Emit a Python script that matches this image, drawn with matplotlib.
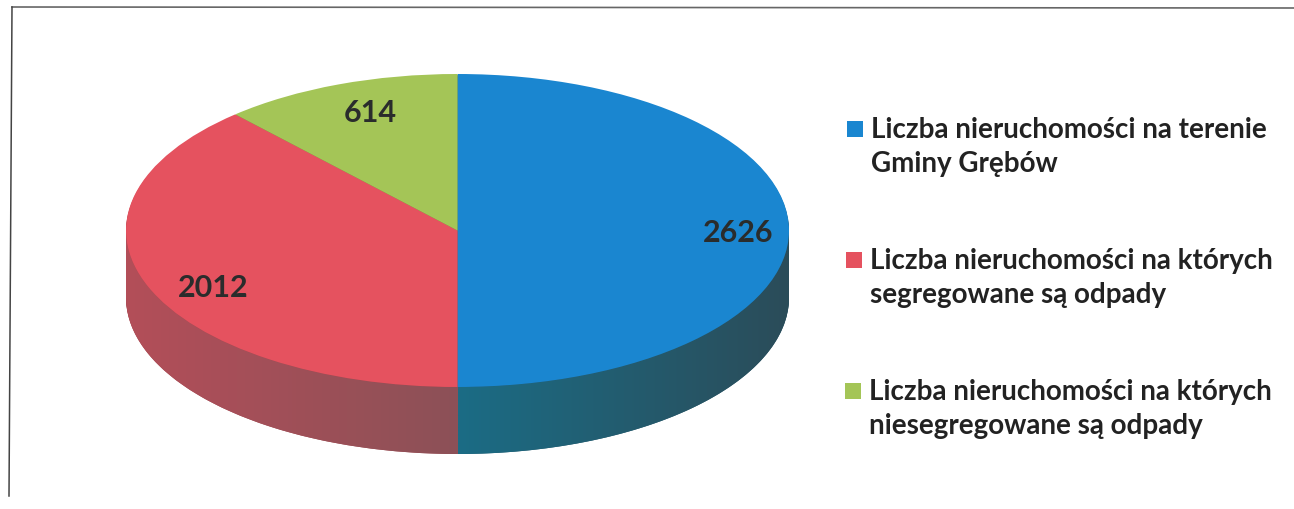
import matplotlib
matplotlib.use('Agg')
import matplotlib.pyplot as plt
from matplotlib.colors import LinearSegmentedColormap
from matplotlib.patches import Polygon
import numpy as np

values = [2626, 2012, 614]
value_labels = ['2626', '2012', '614']
legend_labels = [
    'Liczba nieruchomości na terenie\nGminy Grębów',
    'Liczba nieruchomości na których\nsegregowane są odpady',
    'Liczba nieruchomości na których\nniesegregowane są odpady',
]
colors = ['#1a86d0', '#e5525f', '#a4c557']
side_colors = ['#27586b', '#a0484f', '#6f8a3a']

plt.rcParams['font.family'] = ['Lato', 'DejaVu Sans']

W, H = 1294, 510
fig = plt.figure(figsize=(W / 100, H / 100), dpi=100)

# ramka w pikselach obrazu
bg = fig.add_axes([0, 0, 1, 1])
bg.set_xlim(0, W)
bg.set_ylim(H, 0)
bg.axis('off')
bg.plot([12, 1294], [8, 9], color='#666666', lw=1.2)
bg.plot([12, 9], [8, 497], color='#444444', lw=1.1)

# os kolowa: promien 1 = rx px w poziomie i ry px w pionie
rx, ry, depth = 331.5, 156.5, 67
cx, cy = 457.5, 231.5
ax = fig.add_axes([(cx - rx) / W, 1 - (cy + ry + depth) / H, 2 * rx / W, (2 * ry + depth) / H])
ax.patch.set_alpha(0)

# bok walca jako stos przesunietych kol
for d in np.arange(depth, 0, -1):
    wedges, _ = ax.pie(values, colors=side_colors, startangle=90, counterclock=False,
                       center=(0, -d / ry), radius=1, frame=False)
    for w in wedges:
        w.set_zorder(0.1)
top, _ = ax.pie(values, colors=colors, startangle=90, counterclock=False, radius=1, frame=False)
for w in top:
    w.set_zorder(2)

# cieniowanie boku od lewej do prawej
t = np.linspace(np.pi, 2 * np.pi, 200)
outline = np.vstack([np.c_[np.cos(t), np.sin(t) - depth / ry],
                     np.c_[np.cos(t[::-1]), np.sin(t[::-1])]])
clip = Polygon(outline, closed=True, transform=ax.transData, fc='none', ec='none')
ax.add_patch(clip)
red_side = LinearSegmentedColormap.from_list('r', ['#b34e59', '#8c5157'])
blue_side = LinearSegmentedColormap.from_list('b', ['#1b6c85', '#2b4c59'])
grad = np.linspace(0, 1, 256).reshape(1, -1)
for cmap, ext in [(red_side, (-1, 0, -1 - depth / ry, 0)), (blue_side, (0, 1, -1 - depth / ry, 0))]:
    im = ax.imshow(grad, cmap=cmap, extent=ext, aspect='auto', zorder=1)
    im.set_clip_path(clip)

ax.set_aspect('auto')
ax.set_xlim(-1, 1)
ax.set_ylim(-1 - depth / ry, 1)

bg.set_zorder(3)
label_pos = [(738, 233), (213, 288), (370, 113)]
for txt, (x, y) in zip(value_labels, label_pos):
    bg.text(x, y, txt, ha='center', va='center', fontsize=22, fontweight='bold', color='#2a2c2c')

marker_pos = [(855, 129.5), (854, 261), (853, 392)]
text_pos = [(871, 147), (870, 278), (869, 409)]
for label, col, (mx, my), (tx, ty) in zip(legend_labels, colors, marker_pos, text_pos):
    bg.plot([mx], [my], marker='s', ms=11.5, color=col, mew=0)
    bg.text(tx, ty, label, ha='left', va='center', fontsize=20, fontweight='bold',
            color='#222222', linespacing=1.4)

fig.savefig('out.png', dpi=100)
